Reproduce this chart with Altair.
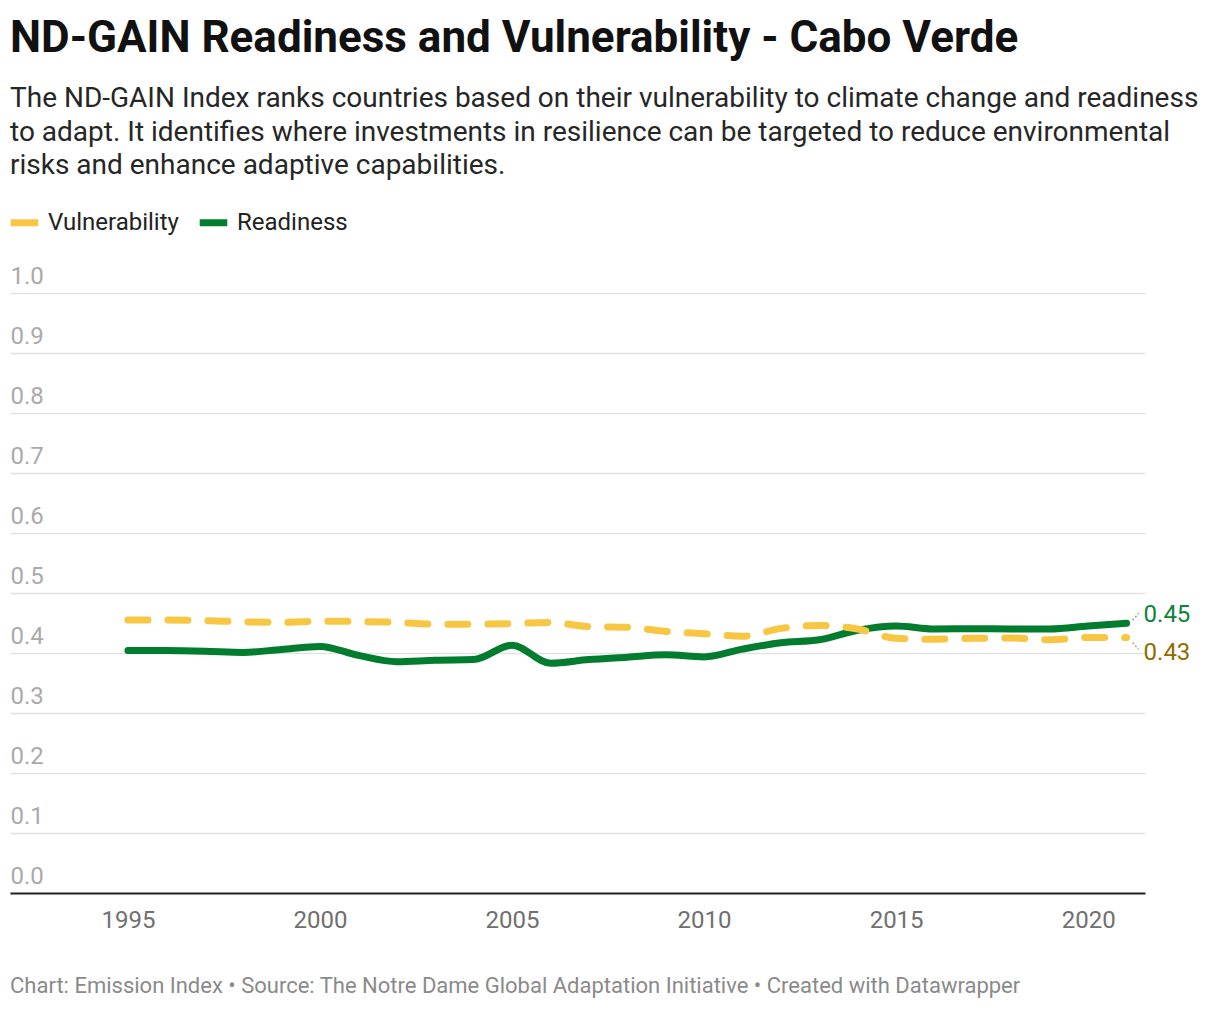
import altair as alt
import pandas as pd

years = list(range(1995, 2022))
readiness = [0.404, 0.404, 0.403, 0.401, 0.406, 0.411, 0.396, 0.3855, 0.388, 0.389,
             0.413, 0.383, 0.389, 0.393, 0.397, 0.3935, 0.4065, 0.417, 0.422, 0.438,
             0.445, 0.440, 0.4405, 0.440, 0.440, 0.445, 0.4495]
vulnerability = [0.455, 0.455, 0.454, 0.452, 0.451, 0.453, 0.4525, 0.451, 0.448, 0.448,
                 0.449, 0.451, 0.444, 0.443, 0.436, 0.432, 0.428, 0.441, 0.446, 0.440,
                 0.4245, 0.423, 0.4245, 0.425, 0.422, 0.426, 0.426]
series_names = ["Vulnerability", "Readiness"]
series_colors = ["#f7c643", "#027c2e"]
label_colors = {"Vulnerability": "#8f6c00", "Readiness": "#0b8437"}
x_ticks = [1995, 2000, 2005, 2010, 2015, 2020]
y_ticks = [0.0, 0.1, 0.2, 0.3, 0.4, 0.5, 0.6, 0.7, 0.8, 0.9, 1.0]

title_text = "ND-GAIN Readiness and Vulnerability - Cabo Verde"
subtitle_lines = [
    "The ND-GAIN Index ranks countries based on their vulnerability to climate change and readiness",
    "to adapt. It identifies where investments in resilience can be targeted to reduce environmental",
    "risks and enhance adaptive capabilities.",
]
footer_text = "Chart: Emission Index \u2022 Source: The Notre Dame Global Adaptation Initiative \u2022 Created with Datawrapper"

rows = []
for y, v in zip(years, vulnerability):
    rows.append({"year": y, "value": v, "series": "Vulnerability"})
for y, r in zip(years, readiness):
    rows.append({"year": y, "value": r, "series": "Readiness"})
df = pd.DataFrame(rows)

FONT = "Roboto"
W, H = 1135, 600

x_enc = alt.X("year:Q", scale=alt.Scale(domain=[1991.93, 2021.48], nice=False, zero=False),
              axis=alt.Axis(values=x_ticks, format="d", title=None, grid=False, ticks=False,
                            domain=True, domainColor="#222222", domainWidth=2,
                            labelFontSize=24, labelColor="#707070", labelPadding=15, labelFont=FONT))
y_enc = alt.Y("value:Q", scale=alt.Scale(domain=[0, 1], nice=False),
              axis=alt.Axis(values=y_ticks, format=".1f", title=None, grid=True, gridColor="#e2e2e2",
                            gridWidth=1.5, ticks=False, domain=False, labelAlign="left",
                            labelBaseline="bottom", labelPadding=0, labelOffset=-5,
                            labelFontSize=24, labelColor="#aaaaaa", labelFont=FONT))

color_enc = alt.Color("series:N", scale=alt.Scale(domain=series_names, range=series_colors),
                      legend=alt.Legend(title=None, orient="none", legendX=-3, legendY=-88,
                                        direction="horizontal", symbolType="stroke",
                                        symbolStrokeWidth=7, symbolSize=760, labelFontSize=24,
                                        labelColor="#222222", labelFont=FONT, labelOffset=6,
                                        columnPadding=6))

base = alt.Chart(df).mark_line(strokeWidth=7, strokeCap="round", interpolate="monotone").encode(
    x=x_enc, y=y_enc, color=color_enc)

ready_line = base.transform_filter(alt.datum.series == "Readiness")
vuln_line = base.transform_filter(alt.datum.series == "Vulnerability").mark_line(
    strokeWidth=7, strokeCap="round", interpolate="monotone", strokeDash=[20, 20])

last = df[df["year"] == years[-1]]

def end_label(name, dy):
    return alt.Chart(last).transform_filter(alt.datum.series == name).mark_text(
        align="left", baseline="middle", dx=17, dy=dy, fontSize=24, font=FONT,
        color=label_colors[name]).encode(
        x="year:Q", y="value:Q", text=alt.Text("value:Q", format=".2f"))

def connector(name, y_off, y2_off):
    return alt.Chart(last).transform_filter(alt.datum.series == name).mark_rule(
        strokeWidth=1.5, strokeDash=[2, 2], color=label_colors[name], opacity=0.6,
        xOffset=6, x2Offset=12, yOffset=y_off, y2Offset=y2_off).encode(
        x="year:Q", x2="year:Q", y="value:Q", y2="value:Q")

footer = alt.Chart(pd.DataFrame({"t": [footer_text]})).mark_text(
    align="left", baseline="middle", fontSize=22, font=FONT, color="#8a8a8a").encode(
    x=alt.value(0), y=alt.value(693), text="t:N")

chart = alt.layer(ready_line, vuln_line,
                  connector("Readiness", -3, -10), connector("Vulnerability", 5, 12),
                  end_label("Readiness", -8), end_label("Vulnerability", 16),
                  footer).properties(
    width=W, height=H,
    background="white",
    autosize=alt.AutoSizeParams(type="none"),
    padding={"left": 2, "top": 285, "right": 58, "bottom": 105},
    title=alt.TitleParams(title_text, subtitle=subtitle_lines, anchor="start", frame="group",
                          font=FONT, fontSize=44, fontWeight="bold", color="#111111",
                          subtitleFont=FONT, subtitleFontSize=28, subtitleColor="#262626",
                          subtitleLineHeight=33.5, subtitlePadding=24, offset=25),
).configure_view(strokeWidth=0, stroke="transparent")

chart.save("out.html", embed_options={"renderer": "svg", "actions": False})
